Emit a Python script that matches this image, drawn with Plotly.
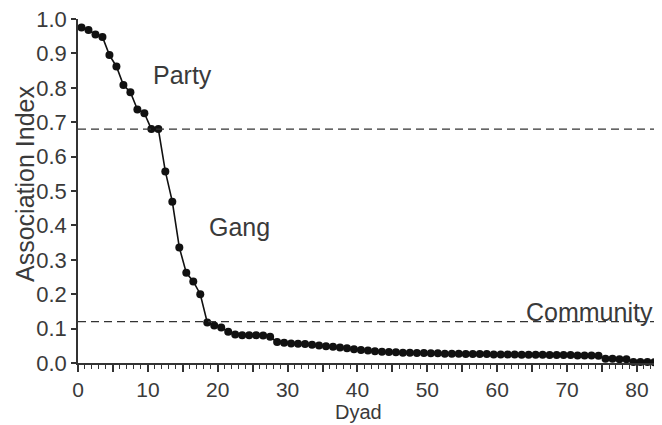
import plotly.graph_objects as go

# Data
dyad = list(range(1, 84))
association_index = [
    0.975, 0.968, 0.955, 0.948, 0.895, 0.862, 0.808, 0.787, 0.737, 0.726,
    0.680, 0.680, 0.557, 0.469, 0.336, 0.262, 0.237, 0.200, 0.118, 0.109,
    0.103, 0.091, 0.083, 0.081, 0.081, 0.081, 0.080, 0.076, 0.061, 0.059,
    0.057, 0.056, 0.055, 0.053, 0.051, 0.049, 0.047, 0.045, 0.043, 0.040,
    0.038, 0.036, 0.034, 0.033, 0.032, 0.031, 0.030, 0.030, 0.029, 0.029,
    0.028, 0.028, 0.027, 0.027, 0.027, 0.026, 0.026, 0.026, 0.026, 0.025,
    0.025, 0.025, 0.025, 0.024, 0.024, 0.024, 0.024, 0.023, 0.023, 0.023,
    0.023, 0.022, 0.022, 0.022, 0.021, 0.012, 0.012, 0.011, 0.011, 0.003,
    0.003, 0.003, 0.002,
]
thresholds = [0.68, 0.12]
labels = ["Party", "Gang", "Community"]
label_x = [14.9, 23.1, 73.2]
label_y = [0.837, 0.395, 0.148]

x_ticks = list(range(0, 85, 5))
x_ticktext = [str(v) if v % 10 == 0 else "" for v in x_ticks]
y_ticks = [round(i * 0.1, 1) for i in range(11)]
y_ticktext = [f"{v:.1f}" for v in y_ticks]

FONT = "Arial, Liberation Sans, sans-serif"
TXT = "#3a3a3a"

fig = go.Figure()
fig.add_trace(go.Scatter(
    x=[d - 0.5 for d in dyad], y=association_index,
    mode="lines+markers",
    line=dict(color="#111111", width=1.6),
    marker=dict(color="#111111", size=8),
    cliponaxis=False, showlegend=False,
))

for t in thresholds:
    fig.add_shape(type="line", xref="paper", x0=0, x1=1, yref="y", y0=t, y1=t,
                  line=dict(color="#333333", width=1.3, dash="8px,5px"))

for txt, lx, ly in zip(labels, label_x, label_y):
    fig.add_annotation(x=lx, y=ly, text=txt, showarrow=False,
                       xanchor="center", yanchor="middle",
                       font=dict(family=FONT, size=25, color=TXT))

# axis titles (plot area is 582 x 344 px)
fig.add_annotation(text="Association Index", xref="paper", yref="paper",
                   x=-53 / 582, y=(363 - 184) / 344, textangle=-90, showarrow=False,
                   xanchor="center", yanchor="middle",
                   font=dict(family=FONT, size=25, color=TXT))
fig.add_annotation(text="Dyad", xref="paper", yref="paper",
                   x=(358 - 78) / 582, y=-(412 - 363) / 344, showarrow=False,
                   xanchor="center", yanchor="middle",
                   font=dict(family=FONT, size=20, color=TXT))

# page body has an 8px default margin, so the figure is sized/margined to compensate
fig.update_layout(
    width=654, height=417,
    margin=dict(l=70, r=2, t=11, b=62),
    paper_bgcolor="white", plot_bgcolor="white",
    font=dict(family=FONT, color=TXT),
    xaxis=dict(
        range=[0, 83.3], showgrid=False, zeroline=False, automargin=False,
        showline=True, linecolor="#333333", linewidth=1.5,
        tickmode="array", tickvals=x_ticks, ticktext=x_ticktext,
        ticks="outside", ticklen=7, tickwidth=1.5, tickcolor="#333333",
        minor=dict(dtick=1, ticks="outside", ticklen=4, tickwidth=1.2, tickcolor="#333333"),
        tickfont=dict(family=FONT, size=21, color=TXT),
        ticklabeloverflow="allow",
    ),
    yaxis=dict(
        range=[0, 1], showgrid=False, zeroline=False, automargin=False,
        showline=True, linecolor="#333333", linewidth=1.5,
        tickmode="array", tickvals=y_ticks, ticktext=y_ticktext,
        ticks="outside", ticklen=5, tickwidth=1.5, tickcolor="#333333",
        tickfont=dict(family=FONT, size=22, color=TXT),
        ticklabeloverflow="allow",
    ),
)

fig.write_html("out.html")
